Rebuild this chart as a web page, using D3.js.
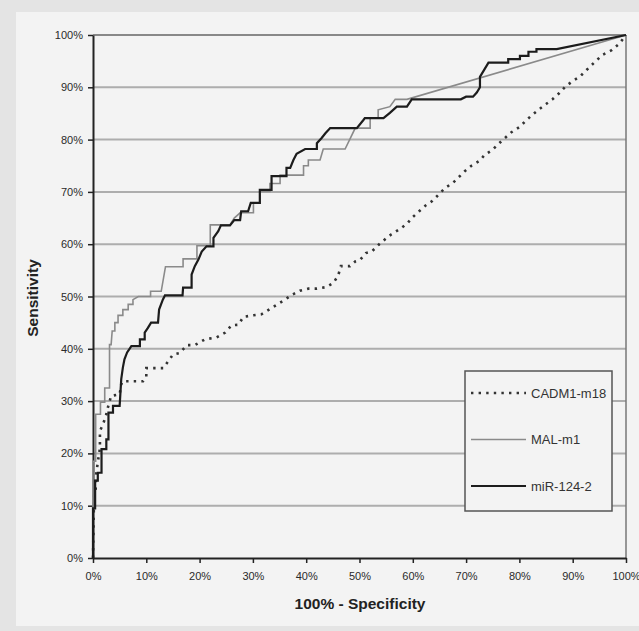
<!DOCTYPE html>
<html>
<head>
<meta charset="utf-8">
<script src="https://cdn.jsdelivr.net/npm/d3@7"></script>
<style>
    body { margin: 0; background: #e4e4e4; }
    svg { display: block; }
    text { font-family: Arial, "Liberation Sans", sans-serif; }
</style>
</head>
<body>
<svg width="639" height="631"></svg>
<script>
// tick labels (percent)
var tickValues = [0, 10, 20, 30, 40, 50, 60, 70, 80, 90, 100];

var seriesNames = ["CADM1-m18", "MAL-m1", "miR-124-2"];

// [100% - specificity, sensitivity]
var cadm1 = [[0, 0], [0.2, 12], [0.5, 13.2], [0.6, 16], [0.9, 18.3], [1.3, 21], [1.3, 24.3], [1.9, 25.6],
    [2.5, 27.5], [2.8, 28.8], [3.4, 31], [5, 31.3], [5.3, 33.2], [5.6, 33.8], [9.4, 33.8], [10, 34.6],
    [10, 36.3], [13.2, 36.3], [15, 38.9], [16.3, 39.2], [17.6, 40.7], [19.1, 40.7], [21, 41.8], [23.2, 42.2],
    [24.8, 43.1], [26, 44.5], [27.3, 44.6], [28.2, 46.1], [30.1, 46.4], [31.6, 46.6], [33.2, 47.6], [34.6, 48.5],
    [35.7, 49.2], [37.3, 50.3], [38.8, 51.1], [40.4, 51.5], [42, 51.5], [43.8, 51.8], [45.1, 52.6], [46, 54],
    [46.5, 55.8], [48.2, 55.8], [49.2, 56.7], [50.1, 57], [51.2, 58.3], [52.3, 58.6], [53.7, 60], [55.1, 61.2],
    [56, 61.9], [57.6, 62.9], [58.9, 63.9], [60, 65.2], [61.2, 66.3], [62.4, 67.4], [63.7, 68.3], [66, 70.7],
    [67.6, 71.8], [69.7, 73.9], [71, 75], [72.6, 76], [73.5, 77.1], [74.9, 78], [76.2, 79.3], [77.5, 80.5],
    [78.5, 81.4], [80, 82.4], [81.4, 83.8], [82.5, 84.8], [83.7, 85.8], [85, 86.8], [86.2, 87.7], [87.5, 88.9],
    [88.6, 90.1], [90, 91.2], [91.3, 92], [92.6, 93.3], [94, 94.7], [95.6, 96.2], [97.3, 97.1], [98.7, 98.3],
    [100, 100]];

var malM1 = [[0, 0], [0, 18.5], [0.5, 18.5], [0.5, 27.5], [1.4, 27.5], [1.4, 29.8], [2.2, 29.8], [2.2, 32.5],
    [3.1, 32.5], [3.1, 40.8], [3.4, 40.8], [3.6, 43.4], [4.1, 43.4], [4.1, 45], [4.7, 45], [4.7, 46.4],
    [5.6, 46.4], [5.6, 47.5], [6.6, 47.5], [6.6, 48.5], [7.5, 48.5], [7.5, 49.4], [8.5, 50], [10.8, 50],
    [10.8, 51], [12.8, 51], [13.6, 55.7], [16.9, 55.7], [16.9, 57.2], [19.5, 57.2],
    [19.5, 59.7], [22, 59.7], [22, 63.7], [25.7, 63.7], [26.5, 65], [27.6, 66], [30.1, 66], [30.1, 67.9],
    [31.3, 67.9], [31.3, 70.1], [33.2, 70.1], [33.2, 71.6], [35.1, 71.6], [35.1, 73.2], [39.5, 73.2],
    [39.5, 75], [40.4, 75], [40.4, 76.1], [42.6, 76.1], [43.2, 78.2], [47.3, 78.2], [48.2, 80.1],
    [49.2, 82.2], [52, 82.2], [52, 84.1], [53.5, 84.1], [53.5, 85.7], [55.7, 86.3], [56.7, 87.7],
    [58.9, 87.7], [100, 100]];

var mir124 = [[0, 0], [0, 9.5], [0.4, 9.5], [0.4, 14.8], [0.9, 14.8], [0.9, 16.3], [1.6, 16.3], [1.6, 20.8],
    [2.5, 20.8], [2.5, 22.7], [2.9, 22.7], [2.9, 27.8], [3.75, 27.8], [3.75, 29.1], [5, 29.1], [5.3, 34.2],
    [5.6, 36.4], [5.9, 38], [6.4, 39.3], [7.2, 40.5], [8.8, 40.5], [8.8, 41.8], [9.7, 41.8], [9.7, 43.1],
    [10.3, 44], [10.9, 45], [12.2, 45], [12.4, 47.5], [13.1, 49.4], [13.5, 50.2], [16.8, 50.2], [16.9, 51.7],
    [18.5, 51.7], [18.5, 54.2], [19.1, 55.8], [19.8, 57.1], [20.4, 58.6], [21.3, 59.6], [22.6, 59.6],
    [22.6, 61.2], [23.5, 62.5], [24, 63.6], [25.7, 63.6], [26.5, 64.6], [27.6, 64.6], [27.8, 66.3],
    [29.1, 66.3], [29.6, 67.9], [31.3, 67.9], [31.3, 70.4], [33.5, 70.4], [33.5, 73], [36.3, 73],
    [36.3, 74.6], [37, 74.6], [37.6, 76.1], [38.2, 77.3], [39.8, 78.2], [42, 78.2], [42, 79.3],
    [42.9, 80.3], [43.6, 81.2], [44.5, 82.2], [49.5, 82.2], [50.7, 83.7], [51, 84.1], [54.5, 84.1],
    [55.7, 85.1], [57, 86.3], [58.9, 86.3], [59.8, 87.7], [69, 87.7], [70, 88.2], [71.3, 88.2], [72, 89],
    [72.6, 90], [72.6, 92], [74.2, 94.7], [77.9, 94.7], [77.9, 95.4], [80.1, 95.4], [80.1, 96],
    [81.7, 96], [81.7, 96.8], [83.2, 96.8], [83.2, 97.3], [87, 97.3], [100, 100]];

var svg = d3.select("svg");

// grey page + lighter panel
svg.append("rect").attr("width", 639).attr("height", 631).attr("fill", "#e4e4e4");
svg.append("rect")
    .attr("x", 16).attr("y", 12)
    .attr("width", 623).attr("height", 614)
    .attr("fill", "#f3f3f3");

var x = d3.scaleLinear().domain([0, 100]).range([93, 626]);
var y = d3.scaleLinear().domain([0, 100]).range([558, 35]);

// horizontal grid lines
svg.append("g").selectAll("line")
    .data(tickValues.slice(1))
    .enter().append("line")
    .attr("x1", x(0)).attr("x2", x(100))
    .attr("y1", function (d) { return y(d); })
    .attr("y2", function (d) { return y(d); })
    .attr("stroke", function (d) { return d === 100 ? "#888" : "#adadad"; })
    .attr("stroke-width", 2);

// right border of plot
svg.append("line")
    .attr("x1", x(100)).attr("x2", x(100))
    .attr("y1", y(0)).attr("y2", y(100))
    .attr("stroke", "#777").attr("stroke-width", 1.5);

var fmt = function (d) { return d + "%"; };

var xAxis = svg.append("g")
    .attr("transform", "translate(0," + y(0) + ")")
    .call(d3.axisBottom(x).tickValues(tickValues).tickFormat(fmt).tickSize(5).tickSizeOuter(0));

var yAxis = svg.append("g")
    .attr("transform", "translate(" + x(0) + ",0)")
    .call(d3.axisLeft(y).tickValues(tickValues).tickFormat(fmt).tickSize(5).tickSizeOuter(0));

[xAxis, yAxis].forEach(function (g) {
    g.select(".domain").attr("stroke", "#222").attr("stroke-width", 2);
    g.selectAll(".tick line").attr("stroke", "#222").attr("stroke-width", 1.5);
    g.selectAll(".tick text")
        .attr("fill", "#2a2a2a")
        .style("font-size", "11px")
        .style("font-family", "Arial, 'Liberation Sans', sans-serif");
});
xAxis.selectAll(".tick text").attr("dy", "1.3em");
yAxis.selectAll(".tick text").attr("x", -10);

// axis titles
svg.append("text")
    .attr("x", 360).attr("y", 609)
    .attr("text-anchor", "middle")
    .style("font-size", "15.5px").style("font-weight", "bold")
    .attr("fill", "#222")
    .text("100% - Specificity");

svg.append("text")
    .attr("transform", "translate(38,298) rotate(-90)")
    .attr("text-anchor", "middle")
    .style("font-size", "15.5px").style("font-weight", "bold")
    .attr("fill", "#222")
    .text("Sensitivity");

// the ROC curves
var lineGen = d3.line()
    .x(function (d) { return x(d[0]); })
    .y(function (d) { return y(d[1]); });

var styles = [
    {data: cadm1, color: "#333", width: 2.6, dash: "2.4,5.2"},
    {data: malM1, color: "#8a8a8a", width: 1.6, dash: null},
    {data: mir124, color: "#1c1c1c", width: 2.2, dash: null}
];

styles.forEach(function (s) {
    svg.append("path")
        .datum(s.data)
        .attr("d", lineGen)
        .attr("fill", "none")
        .attr("stroke", s.color)
        .attr("stroke-width", s.width)
        .attr("stroke-dasharray", s.dash)
        .attr("stroke-linejoin", "miter");
});

// legend
var legend = svg.append("g");
legend.append("rect")
    .attr("x", 465).attr("y", 371)
    .attr("width", 147).attr("height", 140)
    .attr("fill", "#f3f3f3")
    .attr("stroke", "#555").attr("stroke-width", 1.5);

var legendY = d3.scalePoint().domain(seriesNames).range([393, 486]);

seriesNames.forEach(function (name, i) {
    var s = styles[i];
    legend.append("line")
        .attr("x1", 471).attr("x2", 526)
        .attr("y1", legendY(name)).attr("y2", legendY(name))
        .attr("stroke", s.color)
        .attr("stroke-width", s.width)
        .attr("stroke-dasharray", s.dash);
    legend.append("text")
        .attr("x", 531).attr("y", legendY(name))
        .attr("dy", "0.36em")
        .attr("fill", "#333")
        .style("font-size", "13px")
        .text(name);
});
</script>
</body>
</html>
